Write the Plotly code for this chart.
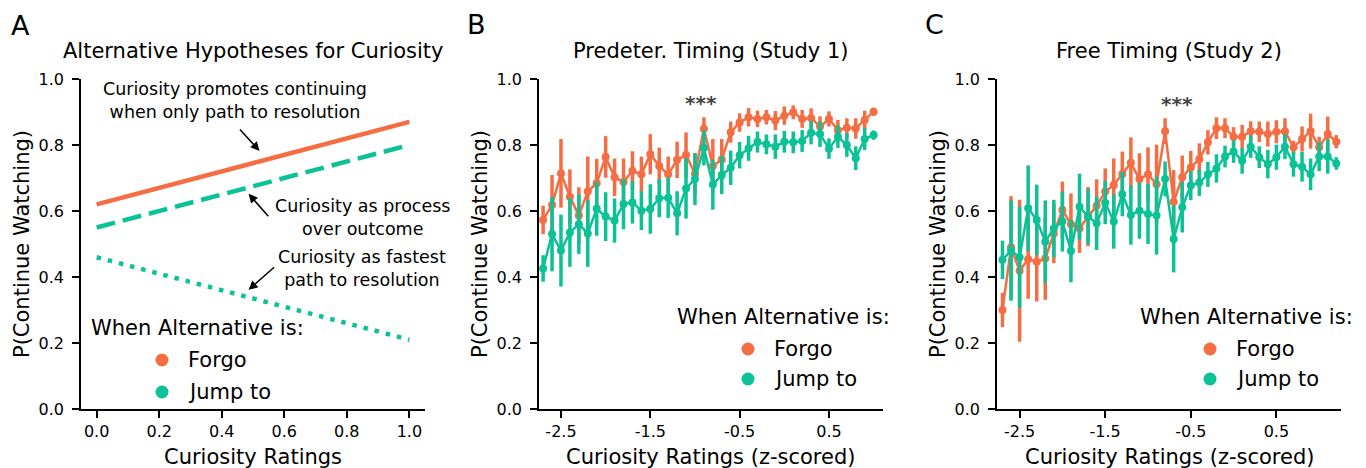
import plotly.graph_objects as go

# ---------------- data ----------------
hyp_x = [0.0, 1.0]
hyp_promote = [0.62, 0.87]
hyp_process = [0.55, 0.80]
hyp_fastest = [0.46, 0.21]

bins_B = [-2.7, -2.6, -2.5, -2.4, -2.3, -2.2, -2.1, -2.0, -1.9, -1.8, -1.7, -1.6, -1.5,
          -1.4, -1.3, -1.2, -1.1, -1.0, -0.9, -0.8, -0.7, -0.6, -0.5, -0.4, -0.3, -0.2,
          -0.1, 0.0, 0.1, 0.2, 0.3, 0.4, 0.5, 0.6, 0.7, 0.8, 0.9, 1.0]
forgo_B = [0.573, 0.618, 0.714, 0.643, 0.586, 0.659, 0.684, 0.764, 0.702, 0.688, 0.722, 0.711,
           0.772, 0.736, 0.711, 0.755, 0.770, 0.713, 0.849, 0.736, 0.756, 0.839, 0.868, 0.884,
           0.879, 0.884, 0.874, 0.889, 0.899, 0.879, 0.882, 0.856, 0.879, 0.845, 0.852, 0.850,
           0.876, 0.901]
forgo_B_err = [0.043, 0.091, 0.104, 0.083, 0.086, 0.106, 0.074, 0.063, 0.057, 0.071, 0.059, 0.054,
               0.061, 0.056, 0.054, 0.055, 0.068, 0.062, 0.035, 0.082, 0.062, 0.032, 0.028, 0.028,
               0.025, 0.022, 0.029, 0.028, 0.021, 0.027, 0.029, 0.031, 0.023, 0.031, 0.029, 0.031,
               0.028, 0.012]
jump_B = [0.426, 0.530, 0.480, 0.535, 0.560, 0.532, 0.607, 0.583, 0.571, 0.621, 0.626, 0.601,
          0.606, 0.639, 0.640, 0.593, 0.668, 0.697, 0.791, 0.680, 0.709, 0.731, 0.769, 0.790,
          0.809, 0.802, 0.795, 0.810, 0.808, 0.812, 0.837, 0.833, 0.789, 0.825, 0.800, 0.760,
          0.818, 0.830]
jump_B_err = [0.040, 0.113, 0.109, 0.104, 0.090, 0.101, 0.082, 0.074, 0.067, 0.076, 0.064, 0.059,
              0.075, 0.058, 0.061, 0.067, 0.091, 0.079, 0.053, 0.076, 0.058, 0.052, 0.040, 0.038,
              0.032, 0.030, 0.037, 0.033, 0.033, 0.033, 0.035, 0.039, 0.031, 0.034, 0.036, 0.036,
              0.033, 0.014]

bins_C = [-2.7, -2.6, -2.5, -2.4, -2.3, -2.2, -2.1, -2.0, -1.9, -1.8, -1.7, -1.6, -1.5,
          -1.4, -1.3, -1.2, -1.1, -1.0, -0.9, -0.8, -0.7, -0.6, -0.5, -0.4, -0.3, -0.2,
          -0.1, 0.0, 0.1, 0.2, 0.3, 0.4, 0.5, 0.6, 0.7, 0.8, 0.9, 1.0, 1.1, 1.2]
forgo_C = [0.300, 0.490, 0.419, 0.454, 0.446, 0.456, 0.532, 0.603, 0.560, 0.547, 0.583, 0.616,
           0.659, 0.679, 0.712, 0.746, 0.697, 0.711, 0.681, 0.842, 0.628, 0.702, 0.732, 0.757,
           0.808, 0.851, 0.851, 0.825, 0.825, 0.842, 0.840, 0.833, 0.840, 0.841, 0.793, 0.818,
           0.842, 0.793, 0.833, 0.810]
forgo_C_err = [0.052, 0.155, 0.215, 0.120, 0.120, 0.125, 0.090, 0.086, 0.093, 0.074, 0.090, 0.080,
               0.070, 0.080, 0.068, 0.077, 0.078, 0.082, 0.120, 0.039, 0.096, 0.066, 0.050, 0.048,
               0.037, 0.033, 0.030, 0.029, 0.036, 0.030, 0.031, 0.038, 0.035, 0.040, 0.020, 0.038,
               0.053, 0.032, 0.053, 0.020]
jump_C = [0.452, 0.480, 0.460, 0.608, 0.573, 0.507, 0.547, 0.568, 0.479, 0.613, 0.583, 0.563,
          0.625, 0.568, 0.651, 0.588, 0.601, 0.591, 0.586, 0.697, 0.515, 0.611, 0.677, 0.686,
          0.711, 0.729, 0.765, 0.780, 0.752, 0.795, 0.763, 0.742, 0.763, 0.795, 0.742, 0.734,
          0.711, 0.765, 0.765, 0.744]
jump_C_err = [0.058, 0.152, 0.153, 0.130, 0.107, 0.125, 0.087, 0.091, 0.095, 0.100, 0.083, 0.081,
              0.065, 0.082, 0.067, 0.090, 0.085, 0.091, 0.118, 0.053, 0.101, 0.076, 0.044, 0.040,
              0.038, 0.043, 0.033, 0.034, 0.039, 0.034, 0.033, 0.043, 0.038, 0.038, 0.038, 0.045,
              0.048, 0.044, 0.052, 0.019]

y_ticks = [0.0, 0.2, 0.4, 0.6, 0.8, 1.0]
y_ticklabels = ["0.0", "0.2", "0.4", "0.6", "0.8", "1.0"]
xA_ticks = [0.0, 0.2, 0.4, 0.6, 0.8, 1.0]
xA_ticklabels = ["0.0", "0.2", "0.4", "0.6", "0.8", "1.0"]
xz_ticks = [-2.5, -1.5, -0.5, 0.5]
xz_ticklabels = ["-2.5", "-1.5", "-0.5", "0.5"]

# ---------------- style ----------------
ORANGE = "#F46D43"
GREEN = "#0BC297"
FONT = "DejaVu Sans"
W, H = 1366, 468

def px(x):
    return x / W

def py(y):
    return 1 - y / H

fig = go.Figure()

# Panel A
fig.add_trace(go.Scatter(x=hyp_x, y=hyp_promote, mode="lines", xaxis="x", yaxis="y",
                         line=dict(color=ORANGE, width=4.5), showlegend=False))
fig.add_trace(go.Scatter(x=hyp_x, y=hyp_process, mode="lines", xaxis="x", yaxis="y",
                         line=dict(color=GREEN, width=4.5, dash="19px,8px"), showlegend=False))
fig.add_trace(go.Scatter(x=hyp_x, y=hyp_fastest, mode="lines", xaxis="x", yaxis="y",
                         line=dict(color=GREEN, width=4.5, dash="4.5px,7px"), showlegend=False))

def add_series(xs, ys, es, color, xa, ya, name):
    fig.add_trace(go.Scatter(
        x=xs, y=ys, mode="lines+markers", xaxis=xa, yaxis=ya, name=name,
        line=dict(color=color, width=2.5),
        marker=dict(color=color, size=8),
        error_y=dict(type="data", array=es, color=color, thickness=3.5, width=0),
        showlegend=False))

add_series(bins_B, forgo_B, forgo_B_err, ORANGE, "x2", "y2", "Forgo")
add_series(bins_B, jump_B, jump_B_err, GREEN, "x2", "y2", "Jump to")
add_series(bins_C, forgo_C, forgo_C_err, ORANGE, "x3", "y3", "Forgo")
add_series(bins_C, jump_C, jump_C_err, GREEN, "x3", "y3", "Jump to")

ydom = [py(409), py(79)]
axis_common = dict(showline=True, linecolor="black", linewidth=1.5, ticks="outside",
                   ticklen=7, tickwidth=1.5, tickcolor="black", showgrid=False,
                   zeroline=False, automargin=False,
                   tickfont=dict(family=FONT, size=16, color="black"))
xstyle = dict(axis_common, ticklabelstandoff=0)
ystyle = dict(axis_common, ticklabelstandoff=5)

fig.update_layout(
    template="none",
    width=W, height=H, margin=dict(l=0, r=0, t=0, b=0, pad=0), autosize=False,
    paper_bgcolor="white", plot_bgcolor="white",
    font=dict(family=FONT, color="black"),
    xaxis=dict(domain=[px(81), px(425)], range=[-0.05, 1.05], anchor="y",
               tickvals=xA_ticks, ticktext=xA_ticklabels, **xstyle),
    yaxis=dict(domain=ydom, range=[0, 1.0], anchor="x",
               tickvals=y_ticks, ticktext=y_ticklabels, **ystyle),
    xaxis2=dict(domain=[px(539), px(883)], range=[-2.746, 1.105], anchor="y2",
                tickvals=xz_ticks, ticktext=xz_ticklabels, **xstyle),
    yaxis2=dict(domain=ydom, range=[0, 1.0], anchor="x2",
                tickvals=y_ticks, ticktext=y_ticklabels, **ystyle),
    xaxis3=dict(domain=[px(997), px(1341)], range=[-2.764, 1.255], anchor="y3",
                tickvals=xz_ticks, ticktext=xz_ticklabels, **xstyle),
    yaxis3=dict(domain=ydom, range=[0, 1.0], anchor="x3",
                tickvals=y_ticks, ticktext=y_ticklabels, **ystyle),
)

ann = []
shapes = []

def text(x, y, s, size, xanchor="center", yanchor="middle", angle=0, color="black",
         xref="paper", yref="paper", align="center"):
    ann.append(dict(x=x, y=y, xref=xref, yref=yref, text=s, showarrow=False,
                    xanchor=xanchor, yanchor=yanchor, textangle=angle, align=align,
                    font=dict(family=FONT, size=size, color=color)))

# panel letters
text(px(20), py(25), "A", 27)
text(px(476), py(24), "B", 27)
text(px(934), py(24), "C", 27)

# titles
text(px(253), py(51), "Alternative Hypotheses for Curiosity", 21)
text(px(711), py(51), "Predeter. Timing (Study 1)", 21)
text(px(1169), py(51), "Free Timing (Study 2)", 21)

# axis titles
for ax_x in [22, 480, 938]:
    text(px(ax_x), py(244), "P(Continue Watching)", 21, angle=-90)
text(px(253), py(457), "Curiosity Ratings", 21)
text(px(711), py(457), "Curiosity Ratings (z-scored)", 21)
text(px(1169), py(457), "Curiosity Ratings (z-scored)", 21)

# panel A hypothesis labels
text(0.441, 0.935, "Curiosity promotes continuing<br>when only path to resolution", 17.5,
     xref="x", yref="y")
text(0.853, 0.580, "Curiosity as process<br>over outcome", 17.5, xref="x", yref="y")
text(0.850, 0.427, "Curiosity as fastest<br>path to resolution", 17.5, xref="x", yref="y")

for hx, hy, axo, ayo in [(0.521, 0.782, -21, -23), (0.486, 0.652, 21, 24),
                         (0.486, 0.361, 27, -24)]:
    ann.append(dict(x=hx, y=hy, xref="x", yref="y", text="", showarrow=True,
                    ax=axo, ay=ayo, arrowhead=2, arrowsize=1.2, arrowwidth=1.5,
                    arrowcolor="black", standoff=0, startstandoff=0))

# significance markers
text(-0.93, 0.926, "<b>***</b>", 20, xref="x2", yref="y2", color="#444444")
text(-0.66, 0.923, "<b>***</b>", 20, xref="x3", yref="y3", color="#444444")

# legends
def legend(tx, ty, mx, my1, my2, lx):
    text(px(tx), py(ty), "When Alternative is:", 21, xanchor="left")
    for my, lab, col in [(my1, "Forgo", ORANGE), (my2, "Jump to", GREEN)]:
        shapes.append(dict(type="circle", xref="paper", yref="paper",
                           xsizemode="pixel", ysizemode="pixel",
                           xanchor=px(mx), yanchor=py(my),
                           x0=-6.5, x1=6.5, y0=-6.5, y1=6.5,
                           fillcolor=col, line=dict(width=0)))
        text(px(lx), py(my), lab, 21, xanchor="left")

legend(89, 328, 162, 360, 392, 186)
legend(675, 317, 748, 349, 379, 772)
legend(1138, 317, 1210, 349, 379, 1234)

fig.update_layout(annotations=ann, shapes=shapes)
fig.write_html("out.html",
               config={"displayModeBar": False},
               post_script="document.body.style.margin='0';"
                           "document.body.style.overflow='hidden';")
